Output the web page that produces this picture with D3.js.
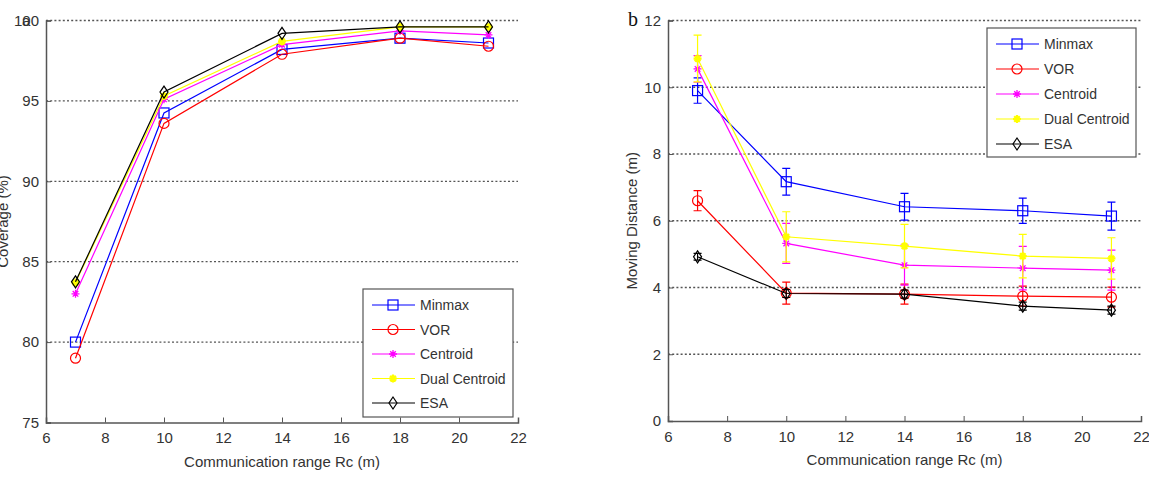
<!DOCTYPE html>
<html>
<head>
<meta charset="utf-8">
<script src="https://cdn.jsdelivr.net/npm/d3@7"></script>
<style>
  html, body { margin: 0; padding: 0; background: #fff; }
  svg { display: block; font-family: "Liberation Sans", Arial, sans-serif; }
</style>
</head>
<body>
<svg id="chart" width="1149" height="481"></svg>
<script>
// ---- data ----
const ranges = [7, 10, 14, 18, 21]
const seriesNames = ["Minmax", "VOR", "Centroid", "Dual Centroid", "ESA"]

// (a) coverage (%)
const covMinmax = [80.0, 94.25, 98.2, 98.9, 98.6]
const covVor = [79.0, 93.6, 97.9, 98.9, 98.4]
const covCentroid = [83.0, 95.1, 98.5, 99.35, 99.1]
const covDual = [83.7, 95.3, 98.7, 99.6, 99.6]
const covEsa = [83.75, 95.55, 99.2, 99.6, 99.6]

// (b) moving distance (m) with error half-widths
const movMinmax = [9.9, 7.17, 6.42, 6.3, 6.14]
const errMinmax = [0.38, 0.4, 0.4, 0.38, 0.42]
const movVor = [6.6, 3.83, 3.8, 3.74, 3.71]
const errVor = [0.3, 0.33, 0.3, 0.3, 0.3]
const movCentroid = [10.55, 5.32, 4.67, 4.58, 4.52]
const errCentroid = [0.4, 0.6, 0.6, 0.65, 0.6]
const movDual = [10.86, 5.52, 5.24, 4.94, 4.87]
const errDual = [0.7, 0.75, 0.65, 0.65, 0.62]
const movEsa = [4.92, 3.82, 3.8, 3.44, 3.32]
const errEsa = [0.1, 0.12, 0.12, 0.12, 0.12]

const xTicks = [6, 8, 10, 12, 14, 16, 18, 20, 22]
const covTicks = [75, 80, 85, 90, 95, 100]
const movTicks = [0, 2, 4, 6, 8, 10, 12]

const colors = ["#0000ff", "#ff0000", "#ff00ff", "#ffff00", "#000000"]
const markers = ["square", "circle", "asterisk", "star", "diamond"]

const svg = d3.select("#chart")

function drawMarker(g, type, x, y, color) {
  if (type === "square") {
    g.append("rect").attr("x", x - 5).attr("y", y - 5).attr("width", 10).attr("height", 10)
      .attr("fill", "none").attr("stroke", color).attr("stroke-width", 1.2)
  } else if (type === "circle") {
    g.append("circle").attr("cx", x).attr("cy", y).attr("r", 5)
      .attr("fill", "none").attr("stroke", color).attr("stroke-width", 1.2)
  } else if (type === "diamond") {
    g.append("path").attr("d", `M${x},${y - 6}L${x + 4},${y}L${x},${y + 6}L${x - 4},${y}Z`)
      .attr("fill", "none").attr("stroke", color).attr("stroke-width", 1.2)
  } else {
    // asterisk; "star" drawn heavier so it reads as a blob like the yellow marks
    const r = 4
    const sw = type === "star" ? 2.2 : 1.3
    const d = `M${x - r},${y}L${x + r},${y}M${x},${y - r}L${x},${y + r}` +
      `M${x - r * 0.7},${y - r * 0.7}L${x + r * 0.7},${y + r * 0.7}M${x - r * 0.7},${y + r * 0.7}L${x + r * 0.7},${y - r * 0.7}`
    g.append("path").attr("d", d).attr("fill", "none").attr("stroke", color).attr("stroke-width", sw)
  }
}

function drawPanel(opts) {
  const { left, right, top, bottom, yDomain, yTicks, series, errors, yLabel, yLabelX, legendBox } = opts
  const x = d3.scaleLinear().domain([6, 22]).range([left, right])
  const y = d3.scaleLinear().domain(yDomain).range([bottom, top])
  const g = svg.append("g")

  // dotted horizontal grid
  yTicks.slice(1).forEach(t => {
    g.append("line")
      .attr("x1", left).attr("x2", right)
      .attr("y1", y(t)).attr("y2", y(t))
      .attr("stroke", "#555").attr("stroke-width", 1.3)
      .attr("stroke-dasharray", "2,2.2")
  })

  // axes (ticks pointing inward)
  const xAxis = d3.axisBottom(x).tickValues(xTicks).tickSize(-5).tickPadding(10)
  const gx = g.append("g").attr("transform", `translate(0,${bottom})`).call(xAxis)
  const yAxis = d3.axisLeft(y).tickValues(yTicks).tickSize(-5).tickPadding(7)
  const gy = g.append("g").attr("transform", `translate(${left},0)`).call(yAxis)
  ;[gx, gy].forEach(a => {
    a.select(".domain").attr("stroke", "#555").attr("stroke-width", 1.5)
    a.selectAll(".tick line").attr("stroke", "#555")
    a.selectAll("text").attr("fill", "#333").attr("font-size", "15px")
      .attr("font-family", "Liberation Sans, Arial, sans-serif")
  })
  // drop the tick mark at the origin
  gx.selectAll(".tick").filter(d => d === 6 || d === 22).select("line").remove()

  const line = d3.line().x((d, i) => x(ranges[i])).y(d => y(d))

  series.forEach((vals, si) => {
    const color = colors[si]
    const sg = g.append("g")
    if (errors) {
      vals.forEach((v, i) => {
        const e = errors[si][i]
        const cx = x(ranges[i])
        sg.append("path")
          .attr("d", `M${cx},${y(v - e)}L${cx},${y(v + e)}M${cx - 4},${y(v - e)}L${cx + 4},${y(v - e)}M${cx - 4},${y(v + e)}L${cx + 4},${y(v + e)}`)
          .attr("stroke", color).attr("stroke-width", 1.2).attr("fill", "none")
      })
    }
    sg.append("path").datum(vals).attr("d", line)
      .attr("fill", "none").attr("stroke", color).attr("stroke-width", 1.2)
    vals.forEach((v, i) => drawMarker(sg, markers[si], x(ranges[i]), y(v), color))
  })

  // x label
  g.append("text")
    .attr("x", (left + right) / 2).attr("y", bottom + 44)
    .attr("text-anchor", "middle").attr("font-size", "15px").attr("fill", "#333")
    .text("Communication range Rc (m)")

  // y label
  g.append("text")
    .attr("transform", `translate(${yLabelX},${(top + bottom) / 2}) rotate(-90)`)
    .attr("text-anchor", "middle").attr("font-size", "15px").attr("fill", "#333")
    .text(yLabel)

  // legend
  const lb = legendBox
  const lg = g.append("g")
  lg.append("rect").attr("x", lb.x).attr("y", lb.y).attr("width", lb.w).attr("height", lb.h)
    .attr("fill", "#fff").attr("stroke", "#555").attr("stroke-width", 1.2)
  seriesNames.forEach((name, i) => {
    const ry = lb.y + 16 + i * lb.step
    lg.append("line").attr("x1", lb.x + 9).attr("x2", lb.x + 52).attr("y1", ry).attr("y2", ry)
      .attr("stroke", colors[i]).attr("stroke-width", 1.2)
    drawMarker(lg, markers[i], lb.x + 30, ry, colors[i])
    lg.append("text").attr("x", lb.x + 57).attr("y", ry + 5)
      .attr("font-size", "14px").attr("fill", "#333").text(name)
  })
  return g
}

drawPanel({
  left: 46, right: 518, top: 20.5, bottom: 422.5,
  yDomain: [75, 100], yTicks: covTicks,
  series: [covMinmax, covVor, covCentroid, covDual, covEsa],
  errors: null,
  yLabel: "Coverage (%)", yLabelX: 8,
  legendBox: { x: 363, y: 289, w: 150, h: 128, step: 24.5 }
})

// overlapped panel letter "a" on the top-left tick label
svg.append("text").attr("x", 22).attr("y", 26).attr("font-size", "15px")
  .attr("fill", "#333").text("a")

drawPanel({
  left: 668, right: 1141, top: 20.5, bottom: 421,
  yDomain: [0, 12], yTicks: movTicks,
  series: [movMinmax, movVor, movCentroid, movDual, movEsa],
  errors: [errMinmax, errVor, errCentroid, errDual, errEsa],
  yLabel: "Moving Distance (m)", yLabelX: 637,
  legendBox: { x: 987, y: 28, w: 149, h: 129, step: 25 }
})

svg.append("text").attr("x", 628).attr("y", 26)
  .attr("font-family", "Liberation Serif, Times New Roman, serif")
  .attr("font-size", "20px").attr("fill", "#111").text("b")
</script>
</body>
</html>
